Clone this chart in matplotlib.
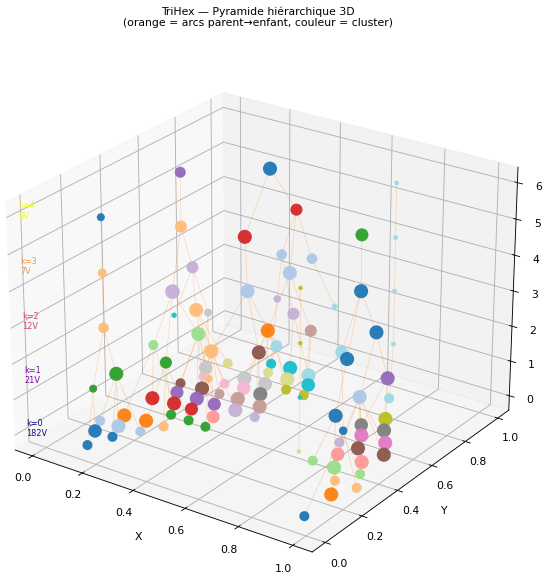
import matplotlib
matplotlib.use("Agg")
import matplotlib.pyplot as plt
from mpl_toolkits.mplot3d.art3d import Line3DCollection

# niveau k=4 (z = 6)
k4_x = [0.366, 0.15, 0.76, 0.165, 0.895]
k4_y = [0.718, 0.53, 0.85, 0.10, 0.446]
k4_c = [0, 8, 19, 0, 4]
k4_w = [49, 30, 6, 16, 42]
k4_par = [-1, -1, -1, -1, -1]

# niveau k=3 (z = 4.5)
k3_x = [0.365, 0.375, 0.15, 0.165, 0.76, 0.895, 0.73]
k3_y = [0.58, 0.855, 0.53, 0.10, 0.85, 0.446, 0.36]
k3_c = [6, 6, 3, 3, 19, 0, 16]
k3_w = [49, 36, 36, 20, 6, 49, 5]
k3_par = [0, 0, 1, 3, 2, 4, -1]

# niveau k=2 (z = 3)
k2_x = [0.30, 0.40, 0.405, 0.375, 0.12, 0.18, 0.165, 0.76, 0.88, 0.87, 0.73, 0.91]
k2_y = [0.88, 0.91, 0.775, 0.58, 0.63, 0.44, 0.10, 0.85, 0.56, 0.38, 0.36, 0.35]
k2_c = [1, 1, 1, 1, 9, 9, 3, 19, 0, 19, 16, 0]
k2_w = [28, 28, 49, 49, 36, 53, 28, 6, 49, 40, 5, 49]
k2_par = [1, 1, 1, 0, 2, 2, 3, 4, 5, 5, 6, 5]

# niveau k=1 (z = 1.5)
k1_x = [0.255, 0.365, 0.445, 0.37, 0.485, 0.31, 0.44, 0.46, 0.085, 0.13, 0.05,
        0.13, 0.24, 0.20, 0.16, 0.165, 0.76, 0.88, 0.88, 0.73, 0.89, 0.965]
k1_y = [0.92, 0.855, 0.98, 0.70, 0.78, 0.47, 0.55, 0.62, 0.695, 0.70, 0.62,
        0.40, 0.32, 0.55, 0.165, 0.04, 0.85, 0.63, 0.47, 0.36, 0.32, 0.25]
k1_c = [9, 9, 19, 2, 11, 3, 10, 19, 3, 15, 18,
        5, 4, 5, 4, 4, 19, 8, 1, 18, 0, 0]
k1_w = [14, 36, 9, 49, 36, 49, 49, 36, 49, 16, 7,
        25, 36, 49, 49, 16, 6, 49, 49, 5, 49, 18]
k1_par = [0, 0, 1, 2, 2, 3, 3, 3, 4, 4, 4,
          5, 5, 5, 6, 6, 7, 8, 8, 10, 11, 9]

# niveau k=0 (z = 0)
k0_x = [0.16, 0.12, 0.19, 0.09, 0.16, 0.24, 0.13, 0.21, 0.28, 0.25, 0.32, 0.39,
        0.13, 0.21, 0.28, 0.37, 0.17, 0.25, 0.32, 0.40, 0.48, 0.14, 0.22, 0.29,
        0.36, 0.45, 0.40, 0.26, 0.33, 0.37, 0.17, 0.195, 0.14, 0.29, 0.18, 0.33,
        0.41, 0.45, 0.52, 0.30, 0.37, 0.49, 0.45, 0.76, 0.83, 0.79, 0.87, 0.83,
        0.92, 0.87, 0.96, 0.84, 0.93, 0.80, 0.88, 0.97, 0.93, 1.01, 0.97, 0.98,
        0.80, 0.73]
k0_y = [0.01, 0.10, 0.10, 0.165, 0.17, 0.18, 0.24, 0.25, 0.25, 0.33, 0.33, 0.325,
        0.39, 0.40, 0.40, 0.395, 0.47, 0.47, 0.47, 0.475, 0.47, 0.53, 0.54, 0.54,
        0.545, 0.54, 0.615, 0.61, 0.62, 0.685, 0.61, 0.61, 0.67, 0.68, 0.74, 0.76,
        0.755, 0.69, 0.69, 0.82, 0.83, 0.76, 0.82, 0.83, 0.70, 0.62, 0.63, 0.56,
        0.56, 0.48, 0.49, 0.41, 0.41, 0.33, 0.33, 0.34, 0.26, 0.26, 0.18, 0.02,
        0.48, 0.355]
k0_c = [0, 0, 0, 1, 1, 1, 2, 2, 3, 4, 4, 4,
        6, 6, 6, 7, 8, 8, 8, 9, 9, 10, 10, 11,
        11, 11, 14, 13, 13, 15, 13, 3, 15, 15, 17, 17,
        17, 16, 16, 18, 18, 18, 19, 19, 16, 14, 14, 12,
        12, 10, 10, 7, 7, 5, 5, 5, 3, 3, 2, 0,
        9, 17]
k0_w = [25, 45, 25, 25, 49, 25, 49, 49, 25, 25, 25, 25,
        49, 49, 42, 42, 42, 49, 42, 49, 25, 25, 49, 25,
        49, 49, 49, 25, 45, 49, 16, 16, 45, 49, 25, 25,
        49, 25, 25, 25, 49, 45, 49, 25, 49, 45, 49, 49,
        49, 49, 49, 45, 49, 25, 49, 25, 25, 25, 49, 25,
        25, 5]
k0_par = [15, 15, 14, 14, 14, 14, 11, 12, 12, 12, 12, 5,
          11, 11, 5, 5, 13, 13, 13, 5, 6, 13, 13, 5,
          6, 6, 7, 8, 3, 3, 9, 9, 8, 3, 8, 3,
          3, 7, 4, 0, 1, 4, 1, 16, 17, 17, 17, 18,
          18, 18, 18, 18, 18, 20, 20, 20, 21, 21, 21, 21,
          18, 19]

n_sommets = [182, 21, 12, 7, 6]

niveaux = [
    (k0_x, k0_y, k0_c, k0_w, k0_par),
    (k1_x, k1_y, k1_c, k1_w, k1_par),
    (k2_x, k2_y, k2_c, k2_w, k2_par),
    (k3_x, k3_y, k3_c, k3_w, k3_par),
    (k4_x, k4_y, k4_c, k4_w, k4_par),
]
dz = 1.5

fig = plt.figure(figsize=(7.0, 7.33), dpi=550 / 7.0)
ax = fig.add_axes([-0.0416, -0.048, 1.02, 0.992], projection="3d")
ax.view_init(elev=25, azim=-55)

tab20 = plt.get_cmap("tab20")
plasma = plt.get_cmap("plasma")

# arcs parent -> enfant
segs = []
for k in range(len(niveaux) - 1):
    xs, ys, _, _, par = niveaux[k]
    px, py = niveaux[k + 1][0], niveaux[k + 1][1]
    for i, p in enumerate(par):
        if p < 0:
            continue
        segs.append([(xs[i], ys[i], k * dz), (px[p], py[p], (k + 1) * dz)])
ax.add_collection3d(Line3DCollection(segs, colors="tab:orange",
                                     linewidths=0.7, alpha=0.25))

# sommets
all_x, all_y, all_z, all_col, all_s = [], [], [], [], []
for k, (xs, ys, cs, ws, _) in enumerate(niveaux):
    all_x += xs
    all_y += ys
    all_z += [k * dz] * len(xs)
    all_col += [tab20(c) for c in cs]
    all_s += [3.4 * w for w in ws]
ax.scatter(all_x, all_y, all_z, c=all_col, s=all_s, alpha=0.95,
           depthshade=False, linewidths=0)

# etiquettes de niveau
for k, n in enumerate(n_sommets):
    ax.text(-0.03, -0.06, k * dz, f"k={k}\n{n}V", color=plasma(k / 4),
            fontsize=7.5, ha="left", va="bottom")

ax.set_xlim(-0.07, 1.07)
ax.set_ylim(-0.07, 1.07)
ax.set_zlim(-0.42, 6.42)
ax.set_xlabel("X")
ax.set_ylabel("Y")
ax.set_title("TriHex — Pyramide hiérarchique 3D\n"
             "(orange = arcs parent→enfant, couleur = cluster)",
             fontsize=10, pad=10)

fig.savefig("out.png")
